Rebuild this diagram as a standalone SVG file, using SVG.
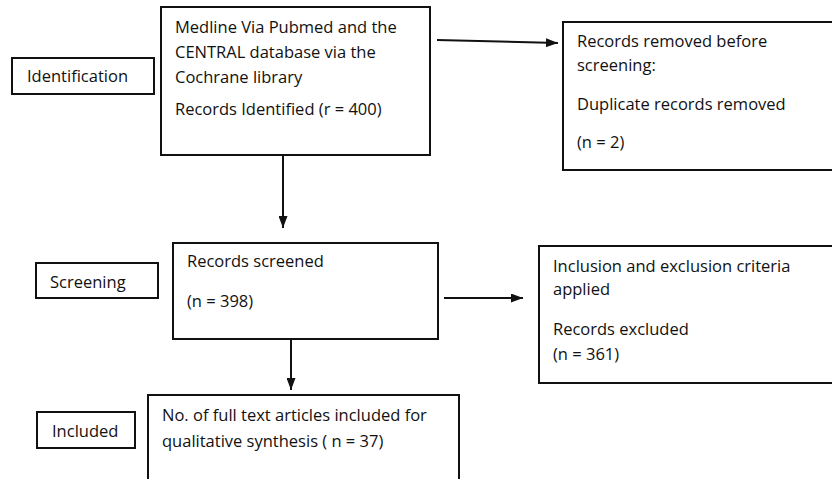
<svg xmlns="http://www.w3.org/2000/svg" width="832" height="479" viewBox="0 0 832 479">
<style>
rect{fill:#fff;stroke:#111;stroke-width:2}
text{font-family:"Open Sans","Noto Sans",sans-serif;font-size:16.5px;fill:#111}
.c{stroke:#111;stroke-width:2;fill:none}
</style>
<defs>
<marker id="ah" viewBox="0 0 12 9" refX="12" refY="4.5" markerWidth="6" markerHeight="4.5" orient="auto" markerUnits="strokeWidth"><path d="M0,0 L12,4.5 L0,9 Z" fill="#111"/></marker>
</defs>
<rect x="0" y="0" width="832" height="479" style="fill:#fff;stroke:none"/>
<g id="stage-identification"><rect x="12" y="58" width="142" height="36"/><text x="27" y="82">Identification</text></g>
<g id="stage-screening"><rect x="36" y="263" width="122" height="35"/><text x="50" y="288">Screening</text></g>
<g id="stage-included"><rect x="37" y="412" width="98" height="36"/><text x="52" y="437">Included</text></g>
<g id="identified"><rect x="161" y="7" width="269" height="148"/>
<text x="175" y="33">Medline Via Pubmed and the</text>
<text x="175" y="58">CENTRAL database via the</text>
<text x="175" y="83">Cochrane library</text>
<text x="175" y="115">Records Identified (r = 400)</text></g>
<g id="removed"><rect x="563" y="22" width="275" height="148"/>
<text x="577" y="47">Records removed before</text>
<text x="577" y="71">screening:</text>
<text x="577" y="110">Duplicate records removed</text>
<text x="577" y="148">(n = 2)</text></g>
<g id="screened"><rect x="173" y="243" width="265" height="96"/>
<text x="187" y="267">Records screened</text>
<text x="187" y="307">(n = 398)</text></g>
<g id="excluded"><rect x="539" y="246" width="299" height="137"/>
<text x="553" y="272">Inclusion and exclusion criteria</text>
<text x="553" y="295">applied</text>
<text x="553" y="335">Records excluded</text>
<text x="553" y="360">(n = 361)</text></g>
<g id="included"><path d="M148,482 V395 H459 V482" class="c"/>
<text x="162" y="421">No. of full text articles included for</text>
<text x="162" y="447">qualitative synthesis ( n = 37)</text></g>
<g id="connectors">
<path class="c" d="M283,155 V228" marker-end="url(#ah)"/>
<path class="c" d="M437,40 L558,43" marker-end="url(#ah)"/>
<path class="c" d="M291,339 V390" marker-end="url(#ah)"/>
<path class="c" d="M444,298 H523" marker-end="url(#ah)"/>
</g>
</svg>
